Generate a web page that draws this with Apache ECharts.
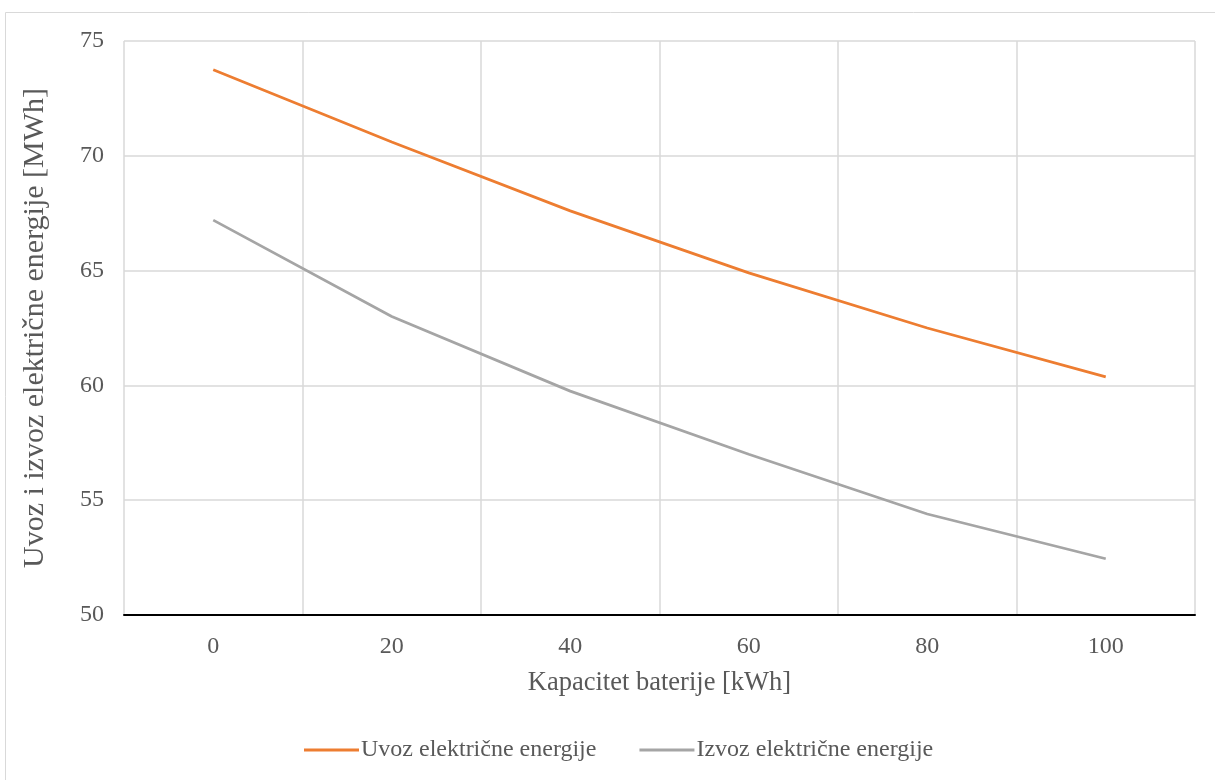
<!DOCTYPE html>
<html>
<head>
<meta charset="utf-8">
<script src="https://cdn.jsdelivr.net/npm/echarts@6/dist/echarts.min.js"></script>
<style>html,body{margin:0;padding:0;background:#fff}#c{width:1215px;height:780px}</style>
</head>
<body>
<div id="c"></div>
<script>
const categories = ['0', '20', '40', '60', '80', '100'];
const uvoz = [73.75, 70.6, 67.6, 64.9, 62.5, 60.37];
const izvoz = [67.2, 63.0, 59.75, 57.0, 54.4, 52.45];
const seriesNames = ['Uvoz električne energije', 'Izvoz električne energije'];
const xTitle = 'Kapacitet baterije [kWh]';
const yTitle = 'Uvoz i izvoz električne energije [MWh]';

const font = 'Liberation Serif, Times New Roman, serif';
const chart = echarts.init(document.getElementById('c'), null, {renderer: 'canvas'});
chart.setOption({
  animation: false,
  backgroundColor: '#fff',
  graphic: [{
    type: 'rect', silent: true, z: -10,
    shape: {x: 5.5, y: 12.5, width: 1300, height: 900},
    style: {fill: 'none', stroke: '#D9D9D9', lineWidth: 1}
  }],
  grid: {left: 124, right: 20, top: 41, bottom: 165, containLabel: false},
  legend: {
    top: 733, left: 299,
    itemWidth: 55, itemHeight: 3, itemGap: 43,
    icon: 'rect',
    textStyle: {fontFamily: font, fontSize: 24, color: '#595959', padding: [0, 0, 0, -3]},
    data: seriesNames
  },
  xAxis: {
    type: 'category', data: categories, boundaryGap: true,
    name: xTitle, nameLocation: 'middle', nameGap: 55,
    nameTextStyle: {fontFamily: font, fontSize: 26.5, color: '#595959'},
    axisLine: {show: true, lineStyle: {color: '#000', width: 2}},
    axisTick: {show: false},
    axisLabel: {fontFamily: font, fontSize: 24, color: '#595959', margin: 20},
    splitLine: {show: true, lineStyle: {color: '#D9D9D9', width: 1.5}}
  },
  yAxis: {
    type: 'value', min: 50, max: 75, interval: 5,
    name: yTitle, nameLocation: 'middle', nameGap: 74, nameRotate: 90,
    nameTextStyle: {fontFamily: font, fontSize: 30, color: '#595959'},
    axisLine: {show: false}, axisTick: {show: false},
    axisLabel: {fontFamily: font, fontSize: 24, color: '#595959', margin: 20},
    splitLine: {show: true, lineStyle: {color: '#D9D9D9', width: 1.5}}
  },
  series: [
    {name: seriesNames[0], type: 'line', data: uvoz, symbol: 'none',
     lineStyle: {color: '#ED7D31', width: 2.75}, itemStyle: {color: '#ED7D31'}},
    {name: seriesNames[1], type: 'line', data: izvoz, symbol: 'none',
     lineStyle: {color: '#A5A5A5', width: 2.75}, itemStyle: {color: '#A5A5A5'}}
  ]
});
</script>
</body>
</html>
